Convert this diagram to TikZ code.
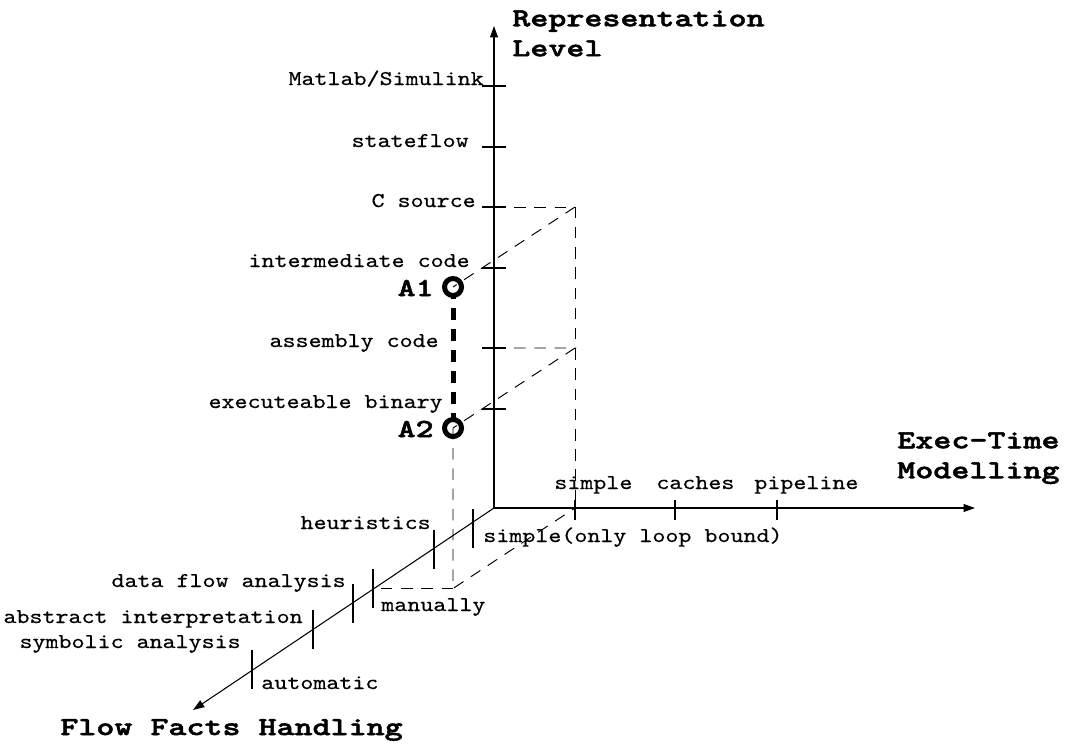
\documentclass[tikz,border=0pt]{standalone}
\usepackage{fontspec}
\newfontfamily\lvlfont[FakeStretch=1.18, FakeBold=0.4]{lmmono10-regular.otf}
\newfontfamily\ttlfont[FakeStretch=1.32, FakeBold=2]{lmmonolt10-bold.otf}
\usetikzlibrary{arrows.meta, backgrounds}

\begin{document}
\begin{tikzpicture}[x=0.02cm, y=-0.02cm,
    ax/.style={-{Triangle[length=6.5pt, width=4.5pt]}, line width=0.6pt},
    tk/.style={line width=0.6pt},
    guide/.style={line width=0.55pt, dash pattern=on 6.5pt off 5pt},
    route/.style={line width=2.85pt, dash pattern=on 6.83pt off 5.12pt},
    spot/.style={circle, draw, fill=white, line width=2.85pt, minimum size=0.34cm, inner sep=0pt},
    lvl/.style={font=\lvlfont\fontsize{11.95}{14}\selectfont, inner sep=0pt},
    ttl/.style={font=\ttlfont\fontsize{14.8}{17.07}\selectfont, inner sep=0pt, align=left},
]
\useasboundingbox (0,0) rectangle (1068,745);

% ========== AXES: origin -> representation (up), exec-time (right), flow facts (diagonal) ==========
\coordinate (O) at (494,508);
\coordinate (yEnd) at (494,26);
\coordinate (xEnd) at (975,508);
\coordinate (zEnd) at (193,710);
\draw[ax] (O) -- (yEnd);
\draw[ax] (O) -- (xEnd);
\draw[ax] (O) -- (zEnd);

\node[ttl, anchor=north west] at (512,10) (repLbl) {Representation\\Level};
\node[ttl, anchor=north west] at (897,432) (execLbl) {Exec-Time\\Modelling};
\node[ttl, anchor=base west] at (60,735) (flowLbl) {Flow Facts Handling};

% ========== REPRESENTATION LEVELS (vertical axis) ==========
\coordinate (lvMatlab) at (494,86);
\coordinate (lvState) at (494,147);
\coordinate (lvCsrc) at (494,207);
\coordinate (lvInter) at (494,268);
\coordinate (lvAsm) at (494,348);
\coordinate (lvBin) at (494,409);
\draw[tk] (lvMatlab) ++(-12,0) -- ++(24,0);
\draw[tk] (lvState) ++(-12,0) -- ++(24,0);
\draw[tk] (lvCsrc) ++(-12,0) -- ++(24,0);
\draw[tk] (lvInter) ++(-12,0) -- ++(24,0);
\draw[tk] (lvAsm) ++(-12,0) -- ++(24,0);
\draw[tk] (lvBin) ++(-12,0) -- ++(24,0);

\node[lvl, anchor=base east] at (484,85) (tMatlab) {Matlab/Simulink};
\node[lvl, anchor=base east] at (469,147) (tState) {stateflow};
\node[lvl, anchor=base east] at (476,207) (tCsrc) {C source};
\node[lvl, anchor=base east] at (470,267) (tInter) {intermediate code};
\node[lvl, anchor=base east] at (439,347) (tAsm) {assembly code};
\node[lvl, anchor=base east] at (443,408) (tBin) {executeable binary};

% ========== EXEC-TIME MODELLING (horizontal axis) ==========
\coordinate (exSimple) at (575,508);
\coordinate (exCache) at (675,508);
\coordinate (exPipe) at (777,508);
\draw[tk] (exSimple) ++(0,-8) -- ++(0,20);
\draw[tk] (exCache) ++(0,-8) -- ++(0,20);
\draw[tk] (exPipe) ++(0,-8) -- ++(0,20);

\node[lvl, anchor=base west] at (554,489) (tSimple) {simple};
\node[lvl, anchor=base west] at (656,489) (tCache) {caches};
\node[lvl, anchor=base west] at (754,489) (tPipe) {pipeline};

% ========== FLOW FACTS HANDLING (diagonal axis) ==========
\coordinate (ffLoop) at (473,528.5);
\coordinate (ffHeur) at (434,549);
\coordinate (ffManual) at (373,588.5);
\coordinate (ffData) at (353,603);
\coordinate (ffAbs) at (313,629.5);
\coordinate (ffAuto) at (252,669.5);
\draw[tk] (ffLoop) ++(0,-19.5) -- ++(0,39);
\draw[tk] (ffHeur) ++(0,-19.5) -- ++(0,39);
\draw[tk] (ffManual) ++(0,-19.5) -- ++(0,39);
\draw[tk] (ffData) ++(0,-19.5) -- ++(0,39);
\draw[tk] (ffAbs) ++(0,-19.5) -- ++(0,39);
\draw[tk] (ffAuto) ++(0,-19.5) -- ++(0,39);

% labels right of the ticks
\node[lvl, anchor=base west] at (483,542) (tLoop) {simple(only loop bound)};
\node[lvl, anchor=base west] at (381,611) (tManual) {manually};
\node[lvl, anchor=base west] at (261,689) (tAuto) {automatic};
% labels left of the ticks
\node[lvl, anchor=base east] at (431,529) (tHeur) {heuristics};
\node[lvl, anchor=base east] at (346,587) (tData) {data flow analysis};
\node[lvl, anchor=base east] at (303,623) (tAbs) {abstract interpretation};
\node[lvl, anchor=base east] at (241,648) (tSym) {symbolic analysis};

% ========== POINTS A1, A2 ==========
\node[spot] at (453,287) (A1) {};
\node[spot] at (453,428) (A2) {};
\node[ttl, anchor=base east] at (434,296) (labA1) {A1};
\node[ttl, anchor=base east] at (434,437) (labA2) {A2};

\begin{pgfonlayer}{background}
\draw[route] (A1.center) -- (A2.center);
\end{pgfonlayer}

% ========== PROJECTION LINES (dashed) ==========
\coordinate (cTop) at (575,207);
\coordinate (cMid) at (575,348);
\coordinate (cBot) at (453,588.5);

% --- C source -> corner -> down to simple ---
\draw[guide] (lvCsrc) -- (cTop) -- (exSimple);
\draw[guide] (cTop) -- (A1.center);

% --- assembly code -> corner -> A2 ---
\draw[guide] (lvAsm) -- (cMid) -- (A2.center);

% --- A2 down to floor, then to manually and simple ---
\draw[guide] (A2.center) -- (cBot) -- (exSimple);
\draw[guide] (cBot) -- (ffManual);

\end{tikzpicture}
\end{document}
